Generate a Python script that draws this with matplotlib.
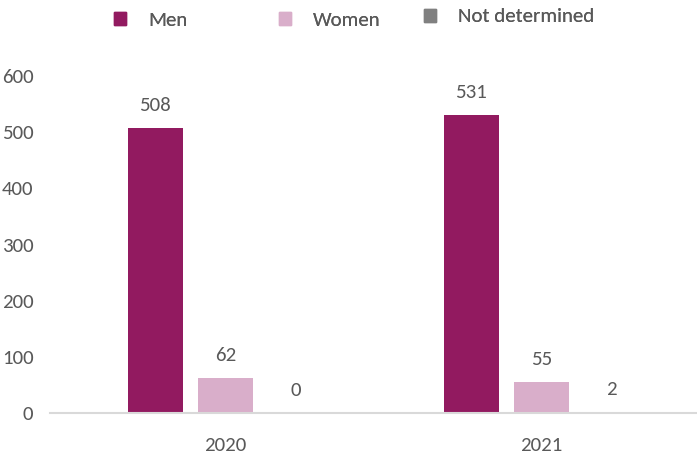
import numpy as np
import matplotlib
matplotlib.use('Agg')
import matplotlib.pyplot as plt
from matplotlib.patches import Patch

# ---- data ----
years = ['2020', '2021']
series = ['Men', 'Women', 'Not determined']
men = [508, 531]
women = [62, 55]
not_determined = [0, 2]
colors = ['#921a60', '#d9aeca', '#808080']

plt.rcParams['font.family'] = ['Carlito', 'Liberation Sans', 'DejaVu Sans']
TXT = '#595959'
FS = 15

fig = plt.figure(figsize=(6.97, 4.59), dpi=100)
ax = fig.add_axes([50 / 697, 1 - 413 / 459, 1 - 50 / 697, (413 - 76) / 459])

x = np.arange(len(years))
width = 0.174
step = 0.2215
for i, (vals, name, c) in enumerate(zip([men, women, not_determined], series, colors)):
    pos = x + (i - 1) * step
    bars = ax.bar(pos, vals, width, color=c, label=name)
    for b, v in zip(bars, vals):
        ax.annotate(str(v), xy=(b.get_x() + b.get_width() / 2, v), xytext=(0, 10),
                    textcoords='offset points', ha='center', va='bottom',
                    fontsize=FS, color=TXT)

ax.set_xlim(-0.555, 1.492)
ax.set_ylim(0, 600)
ax.set_xticks(x)
ax.set_xticklabels(years)
ax.set_yticks(np.arange(0, 601, 100))
ax.tick_params(axis='both', length=0, labelsize=FS, colors=TXT)
ax.tick_params(axis='x', pad=17)
ax.tick_params(axis='y', pad=12)
for s in ['top', 'right', 'left']:
    ax.spines[s].set_visible(False)
ax.spines['bottom'].set_color('#d9d9d9')
ax.spines['bottom'].set_linewidth(1.5)

# legend entries placed one by one (spacing in the original is uneven)
leg_x = [114, 279, 424]
leg_y = [20, 20, 17]
for name, c, lx, ly in zip(series, colors, leg_x, leg_y):
    lg = fig.legend(handles=[Patch(color=c, label=name)], loc='center left',
                    bbox_to_anchor=(lx / 697, 1 - ly / 459), frameon=False,
                    fontsize=FS, handlelength=0.58, handleheight=0.58,
                    handletextpad=1.05, borderpad=0, borderaxespad=0,
                    labelcolor=TXT)
    fig.add_artist(lg)

fig.savefig('out.png', dpi=100)
